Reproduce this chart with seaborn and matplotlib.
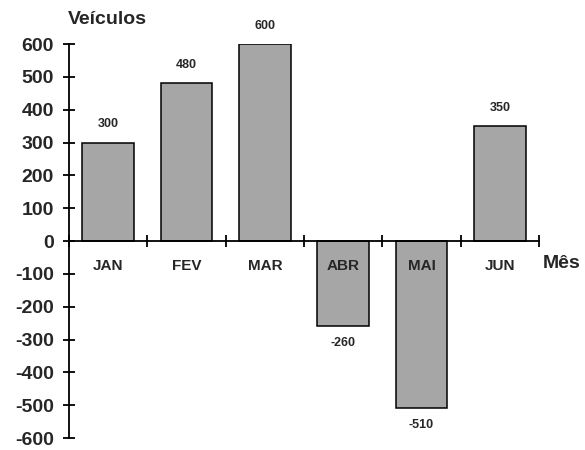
import matplotlib
matplotlib.use("Agg")
import matplotlib.pyplot as plt
import seaborn as sns
import pandas as pd
from matplotlib.ticker import FixedLocator

months = ["JAN", "FEV", "MAR", "ABR", "MAI", "JUN"]
vehicles = [300, 480, 600, -260, -510, 350]
y_ticks = [600, 500, 400, 300, 200, 100, 0, -100, -200, -300, -400, -500, -600]

sns.set_style("white")
plt.rcParams["font.family"] = ["Liberation Sans", "DejaVu Sans"]
plt.rcParams["font.weight"] = "bold"

df = pd.DataFrame({"Mês": months, "Veículos": vehicles})

fig = plt.figure(figsize=(5.85, 4.5), dpi=100)
ax = fig.add_axes([69 / 585, 1 - 438 / 450, 470 / 585, 394 / 450])

sns.barplot(data=df, x="Mês", y="Veículos", order=months, color="#a6a6a6",
            saturation=1, width=0.66, edgecolor="black", linewidth=1.1, ax=ax)

ax.set_axisbelow(False)
ax.set_xlim(-0.5, len(months) - 0.5)
ax.set_ylim(-600, 600)
ax.set_yticks(y_ticks)
ax.set_yticklabels([str(v) for v in y_ticks], fontsize=14, fontweight="bold")

for s in ["top", "right"]:
    ax.spines[s].set_visible(False)
ax.spines["bottom"].set_position(("data", 0))
for s in ["left", "bottom"]:
    ax.spines[s].set_linewidth(1.3)
    ax.spines[s].set_color("black")

ax.set_xticks(range(len(months)))
ax.set_xticklabels(months, fontsize=11, fontweight="bold")
ax.xaxis.set_minor_locator(FixedLocator([i - 0.5 for i in range(len(months) + 1)]))
ax.tick_params(axis="x", which="both", bottom=True)
ax.tick_params(axis="x", which="major", length=0, pad=13)
ax.tick_params(axis="x", which="minor", direction="inout", length=9, width=1.3, color="black")
ax.tick_params(axis="y", which="major", left=True, direction="inout", length=9, width=1.3,
               color="black", pad=6.5)

for i, v in enumerate(vehicles):
    off = 13 if v > 0 else -12
    ax.annotate(str(v), xy=(i, v), xytext=(0, off), textcoords="offset points",
                ha="center", va="center", fontsize=9, fontweight="bold",
                annotation_clip=False)

ax.set_ylabel("Veículos", rotation=0, fontsize=14, fontweight="bold", ha="center", va="center")
ax.yaxis.set_label_coords(0.081, 1.061)
ax.set_xlabel("Mês", fontsize=14, fontweight="bold", ha="center", va="center")
ax.xaxis.set_label_coords(1.049, 0.444)

fig.savefig("out.png", dpi=100)
